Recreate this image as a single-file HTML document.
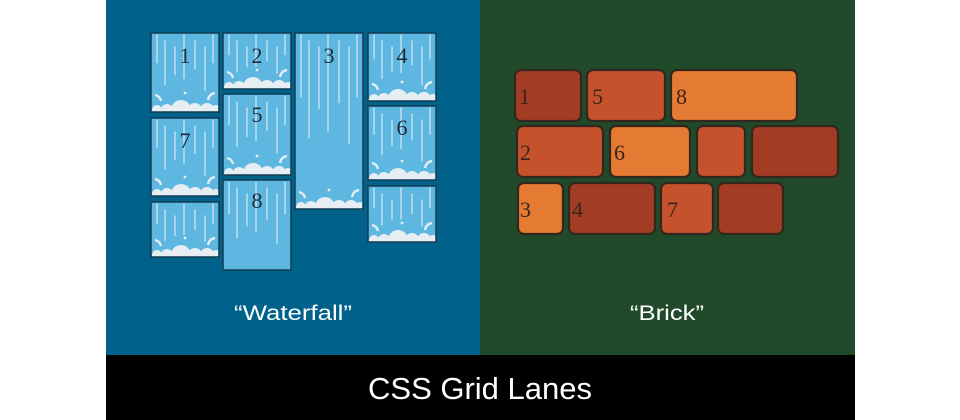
<!DOCTYPE html>
<html><head><meta charset="utf-8"><style>
html,body{margin:0;padding:0;background:#fff;width:960px;height:420px;overflow:hidden}
svg{display:block}
.n{font-family:"Liberation Serif",serif;font-size:22px;fill:#1d2a33}
.b{font-family:"Liberation Serif",serif;font-size:22px;fill:#3a2418}
</style></head><body>
<svg id="s" width="960" height="420" viewBox="0 0 960 420">
<defs id="defs"></defs>
<rect x="106" y="0" width="374" height="355" fill="#00628a"/>
<rect x="480" y="0" width="375" height="355" fill="#214a2b"/>
<rect x="106" y="355" width="749" height="65" fill="#000"/>
<g id="tiles"></g>
<g id="bricks"></g>
<g id="txt">
<text class="n" x="185" y="63" text-anchor="middle">1</text>
<text class="n" x="257" y="63" text-anchor="middle">2</text>
<text class="n" x="329" y="63" text-anchor="middle">3</text>
<text class="n" x="402" y="63" text-anchor="middle">4</text>
<text class="n" x="257" y="122" text-anchor="middle">5</text>
<text class="n" x="402" y="135" text-anchor="middle">6</text>
<text class="n" x="185" y="148" text-anchor="middle">7</text>
<text class="n" x="257" y="208" text-anchor="middle">8</text>
<text class="b" x="519" y="104">1</text>
<text class="b" x="592" y="104">5</text>
<text class="b" x="676" y="104">8</text>
<text class="b" x="520" y="160">2</text>
<text class="b" x="614" y="160">6</text>
<text class="b" x="520" y="217">3</text>
<text class="b" x="572" y="217">4</text>
<text class="b" x="667" y="217">7</text>
<text x="293" y="320" text-anchor="middle" font-family="Liberation Sans,sans-serif" font-size="21" fill="#fff" textLength="118" lengthAdjust="spacingAndGlyphs">“Waterfall”</text>
<text x="667" y="320" text-anchor="middle" font-family="Liberation Sans,sans-serif" font-size="21" fill="#fff" textLength="74" lengthAdjust="spacingAndGlyphs">“Brick”</text>
<text x="480" y="399" text-anchor="middle" font-family="Liberation Sans,sans-serif" font-size="31" fill="#fff">CSS Grid Lanes</text>
</g>
</svg>
<script>
var NS="http://www.w3.org/2000/svg";
function el(p,t,a){var e=document.createElementNS(NS,t);for(var k in a)e.setAttribute(k,a[k]);p.appendChild(e);return e;}
var T=document.getElementById('tiles'),DF=document.getElementById('defs');
var tiles=[[151,33,112,1],[151,118,196,1],[151,202,257,1],[223,33,89,1],[223,94,175,1],[223,180,270,0],[295,33,209,1],[368,33,101,1],[368,106,180,1],[368,186,242,1]];
tiles.forEach(function(t,idx){
 var x=t[0],y=t[1],w=68,h=t[2]-t[1];
 var cp=el(DF,'clipPath',{id:'c'+idx});el(cp,'rect',{x:x,y:y,width:w,height:h});
 var g=el(T,'g',{'clip-path':'url(#c'+idx+')'});
 el(g,'rect',{x:x,y:y,width:w,height:h,fill:'#5db7e1'});
 var xs=[6,14,24,33,44,54,62];
 xs.forEach(function(dx,i){var l=(i%2?0.55:0.35)*h;var y0=y+2+(i%3)*6;
  el(g,'line',{x1:x+dx,y1:y0,x2:x+dx,y2:Math.min(y0+l,y+h-16),stroke:'#cfe8f5','stroke-width':1.6,'stroke-linecap':'round',opacity:.8});});
 if(t[3]){var cy=y+h-2;
  [[6,5],[16,6],[30,10],[44,7],[56,7],[65,5]].forEach(function(c){el(g,'circle',{cx:x+c[0],cy:cy,r:c[1],fill:'#e6eef3'});});
  el(g,'rect',{x:x,y:cy,width:w,height:4,fill:'#e6eef3'});
  el(g,'circle',{cx:x+34,cy:cy-17,r:1.4,fill:'#e6eef3'});
  el(g,'path',{d:'M'+(x+4)+' '+(cy-15)+' q5 1 6 6','stroke':'#e6eef3','stroke-width':2.4,fill:'none'});
  el(g,'path',{d:'M'+(x+64)+' '+(cy-17)+' q-6 1 -7 7','stroke':'#e6eef3','stroke-width':2.4,fill:'none'});
 }
 el(T,'rect',{x:x,y:y,width:w,height:h,fill:'none',stroke:'#123c52','stroke-width':1.5});
});
var B=document.getElementById('bricks');
var D='#a23c24',M='#c5522d',O='#e57a33';
var br=[[515,70,66,D],[587,70,78,M],[671,70,126,O],[517,126,86,M],[610,126,80,O],[697,126,48,M],[752,126,86,D],[518,183,45,O],[569,183,86,D],[661,183,52,M],[718,183,65,D]];
br.forEach(function(b){el(B,'rect',{x:b[0],y:b[1],width:b[2],height:51,rx:6,fill:b[3],stroke:'#33261c','stroke-width':2.2});});
</script>
</body></html>
